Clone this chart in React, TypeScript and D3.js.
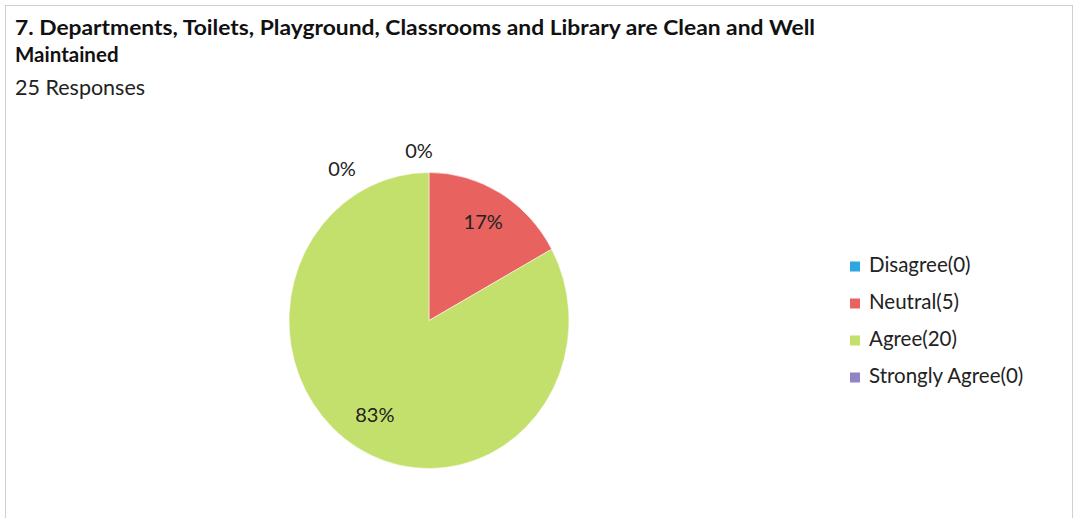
import React from "react";
import * as d3 from "d3";

const categories = ["Disagree", "Neutral", "Agree", "Strongly Agree"];
const counts = [0, 5, 20, 0];
const sliceShares = [0, 17, 83, 0];
const percentLabels = ["0%", "17%", "83%", "0%"];
const colors = ["#2ea6df", "#e8625f", "#c4e06c", "#9283c4"];
const titleLines = [
  "7. Departments, Toilets, Playground, Classrooms and Library are Clean and Well",
  "Maintained",
];
const subtitle = "25 Responses";

const W = 1077;
const H = 518;
const FONT = "Lato, 'Noto Sans', sans-serif";

export default function App() {
  const cx = 429;
  const cy = 320.5;
  const R = 140;
  const sy = 148 / 140;

  const pie = d3.pie<number>().sort(null).value((d) => d);
  const arcs = pie(sliceShares);
  const arc = d3.arc<d3.PieArcDatum<number>>().innerRadius(0).outerRadius(R);
  const labelArc = d3.arc<d3.PieArcDatum<number>>().innerRadius(R * 0.76).outerRadius(R * 0.76);
  const outerArc = d3.arc<d3.PieArcDatum<number>>().innerRadius(R * 1.13).outerRadius(R * 1.13);

  const legendY = d3.scaleBand<string>().domain(categories).range([248, 396]);

  return (
    <svg
      width={W}
      height={H}
      style={{ position: "absolute", left: 0, top: 0, background: "#fff" }}
      fontFamily={FONT}
    >
      <rect x={5.5} y={5.5} width={1067} height={520} fill="none" stroke="#d0d0d0" strokeWidth={1} />
      <text x={15} y={35} fontSize={20.5} fontWeight="bold" fill="#111" textLength={800} lengthAdjust="spacingAndGlyphs">
        {titleLines[0]}
      </text>
      <text x={15} y={62} fontSize={20.5} fontWeight="bold" fill="#111">
        {titleLines[1]}
      </text>
      <text x={15} y={95} fontSize={21.5} fill="#222">
        {subtitle}
      </text>

      <g transform={`translate(${cx},${cy}) scale(1,${sy})`}>
        {arcs.map((a, i) =>
          a.endAngle - a.startAngle > 0 ? (
            <path key={i} d={arc(a) || ""} fill={colors[i]} stroke="#fff" strokeWidth={0.5} />
          ) : null
        )}
      </g>
      {arcs.map((a, i) => {
        const zero = a.endAngle - a.startAngle === 0;
        let x: number, y: number;
        if (zero) {
          const [ox, oy] = outerArc.centroid(a);
          const nudge = i === 0 ? -10 : -87;
          x = cx + ox + nudge;
          y = cy + oy * sy + (i === 0 ? 0 : 18);
        } else {
          const [lx, ly] = labelArc.centroid(a);
          x = cx + lx;
          y = cy + ly * sy;
        }
        return (
          <text
            key={i}
            x={x}
            y={y}
            textAnchor="middle"
            dominantBaseline="middle"
            fontSize={20}
            fill="#222"
          >
            {percentLabels[i]}
          </text>
        );
      })}

      {categories.map((c, i) => {
        const y = (legendY(c) || 0) + legendY.bandwidth() / 2;
        return (
          <g key={c}>
            <rect x={850} y={y - 5} width={10} height={10} fill={colors[i]} />
            <text x={869} y={y} dominantBaseline="middle" fontSize={20.5} fill="#222">
              {`${c}(${counts[i]})`}
            </text>
          </g>
        );
      })}
    </svg>
  );
}
